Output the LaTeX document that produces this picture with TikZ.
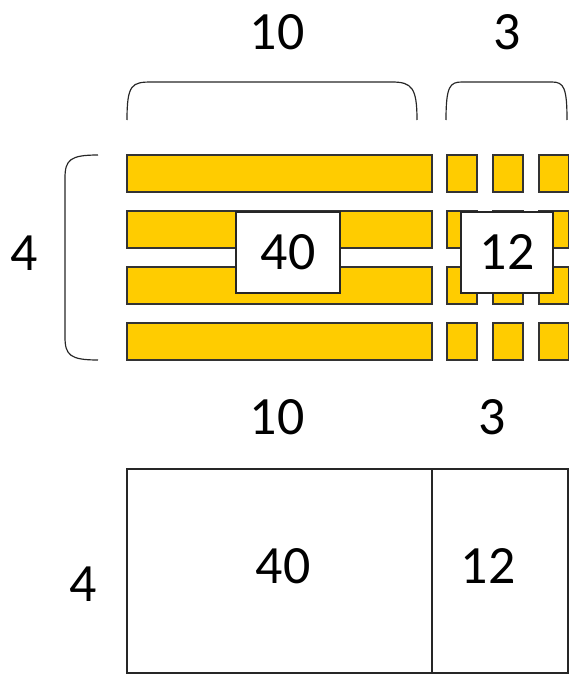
\documentclass[tikz,border=0pt]{standalone}
\usepackage{fontspec}
\setmainfont{Carlito}
\usetikzlibrary{positioning}
\definecolor{barYellow}{HTML}{FFCC00}
\tikzset{>=stealth}

\begin{document}
\begin{tikzpicture}[x=0.03cm, y=-0.03cm,
  bar/.style={fill=barYellow, draw=black!80, line width=1.1pt},
  brace/.style={draw=black!85, line width=1pt},
  numlbl/.style={font=\fontsize{46}{50}\selectfont, inner sep=0pt},
  prodbox/.style={numlbl, draw=black!85, fill=white, line width=1.1pt}]

\useasboundingbox (0,0) rectangle (569,675);

% the bars: one long bar for the ten and three squares for the three, four times
\foreach \y in {155,211,267,323} {
  \draw[bar] (127,\y) rectangle (432,\y+37);
  \foreach \x in {447,493,539} { \draw[bar] (\x,\y) rectangle (\x+30,\y+37); }
}

% braces over and beside the bars
\draw[brace] (127,120) .. controls (127,84) and (132,82) .. (152,82) -- (392,82)
  .. controls (412,82) and (417,88) .. (417,120);
\draw[brace] (446,120) .. controls (446,86) and (450,82) .. (462,82) -- (552,82)
  .. controls (564,82) and (567,88) .. (567,120);
\draw[brace] (98,155) .. controls (70,155) and (65,160) .. (65,178) -- (65,337)
  .. controls (65,355) and (70,360) .. (98,360);

\node[numlbl] (tenTop) at (277,32) {10};
\node[numlbl] (threeTop) at (507,32) {3};
\node[numlbl] (fourTop) at (24,253) {4};

% the products laid over the bars
\node[prodbox, minimum width=3.12cm, minimum height=2.43cm] (prodTen) at (288,252.5) {40};
\node[prodbox, minimum width=2.76cm, minimum height=2.43cm] (prodThree) at (507,252.5) {12};

% the area model underneath
\node[numlbl] (tenBot) at (277,417) {10};
\node[numlbl] (threeBot) at (492,417) {3};
\node[numlbl] (fourBot) at (83,584) {4};
\draw[brace] (127,469) rectangle (568,673);
\draw[brace] (432,469) -- (432,673);
\node[numlbl] (areaTen) at (283,566) {40};
\node[numlbl] (areaThree) at (488,566) {12};
\end{tikzpicture}
\end{document}
